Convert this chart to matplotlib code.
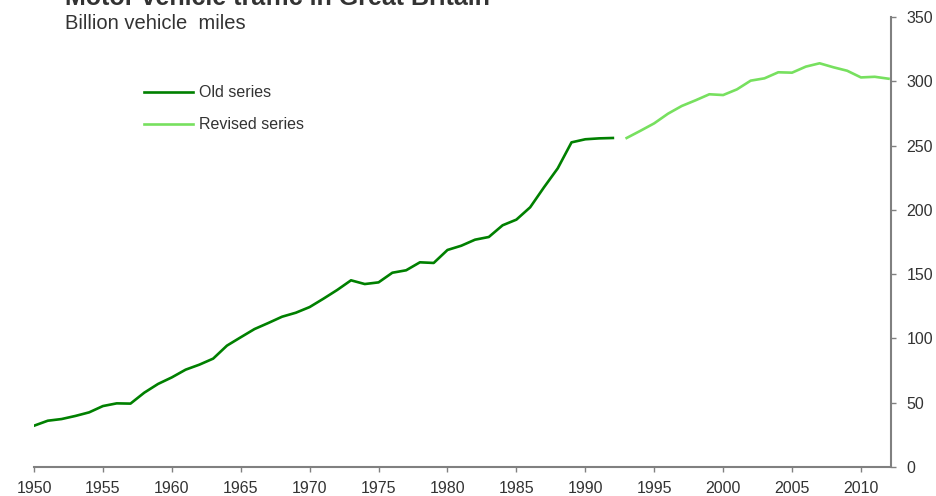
import matplotlib
matplotlib.use("Agg")
import matplotlib.pyplot as plt

# ── data ──────────────────────────────────────────────────────────────────────
old_years = list(range(1950, 1993))
old_values = [
    32.1, 36.0, 37.3, 39.7, 42.5, 47.4, 49.5, 49.3, 57.8, 64.6,
    69.7, 75.7, 79.6, 84.3, 94.4, 100.9, 107.3, 112.0, 116.9, 120.0,
    124.4, 130.9, 137.7, 145.2, 142.3, 143.6, 151.1, 153.0, 159.2, 158.7,
    168.8, 172.1, 176.8, 178.9, 188.0, 192.4, 202.0, 217.5, 232.3, 252.5,
    254.9, 255.6, 255.9,
]
rev_years = list(range(1993, 2013))
rev_values = [
    255.9, 261.5, 267.3, 274.8, 280.8, 285.2, 289.9, 289.3, 293.7, 300.5,
    302.3, 307.0, 306.7, 311.4, 314.0, 310.9, 308.2, 303.0, 303.5, 302.0,
]
x_ticks = list(range(1950, 2011, 5))
y_ticks = list(range(0, 351, 50))

title = "Motor vehicle traffic in Great Britain"
subtitle = "Billion vehicle  miles"

# ── style ─────────────────────────────────────────────────────────────────────
plt.rcParams["font.family"] = ["Liberation Sans", "DejaVu Sans"]
text_col = "#333333"
axis_col = "#808080"
old_col = "#008000"
rev_col = "#77E05F"

W, H = 937, 496
fig = plt.figure(figsize=(W / 100, H / 100), dpi=100)
ax = fig.add_axes([34 / W, 29 / H, 857 / W, 450 / H])

ax.plot(old_years, old_values, color=old_col, lw=1.9, label="Old series")
ax.plot(rev_years, rev_values, color=rev_col, lw=1.9, label="Revised series")

ax.set_xlim(1950, 2012.18)
ax.set_ylim(0, 350)
ax.set_xticks(x_ticks)
ax.set_yticks(y_ticks)

ax.spines[["top", "left"]].set_visible(False)
for side in ["bottom", "right"]:
    ax.spines[side].set_color(axis_col)
    ax.spines[side].set_linewidth(1.5)

ax.yaxis.tick_right()
ax.tick_params(axis="y", direction="out", length=3.3, width=1, color=axis_col,
               pad=8, labelsize=11.5, labelcolor=text_col)
ax.tick_params(axis="x", direction="out", length=3.8, width=1, color=axis_col,
               pad=6, labelsize=11.5, labelcolor=text_col)

ax.legend(loc="upper left", bbox_to_anchor=(130 / W, 1 - 71 / H),
          bbox_transform=fig.transFigure, frameon=False, fontsize=11.5,
          handlelength=3.05, handletextpad=0.35, labelspacing=1.05,
          labelcolor=text_col)

fig.text(65 / W, 1 - 5 / H, title, fontsize=18, fontweight="bold",
         color=text_col, va="baseline", ha="left")
fig.text(65 / W, 1 - 29 / H, subtitle, fontsize=14.5,
         color=text_col, va="baseline", ha="left")

fig.savefig("out.png", dpi=100)
